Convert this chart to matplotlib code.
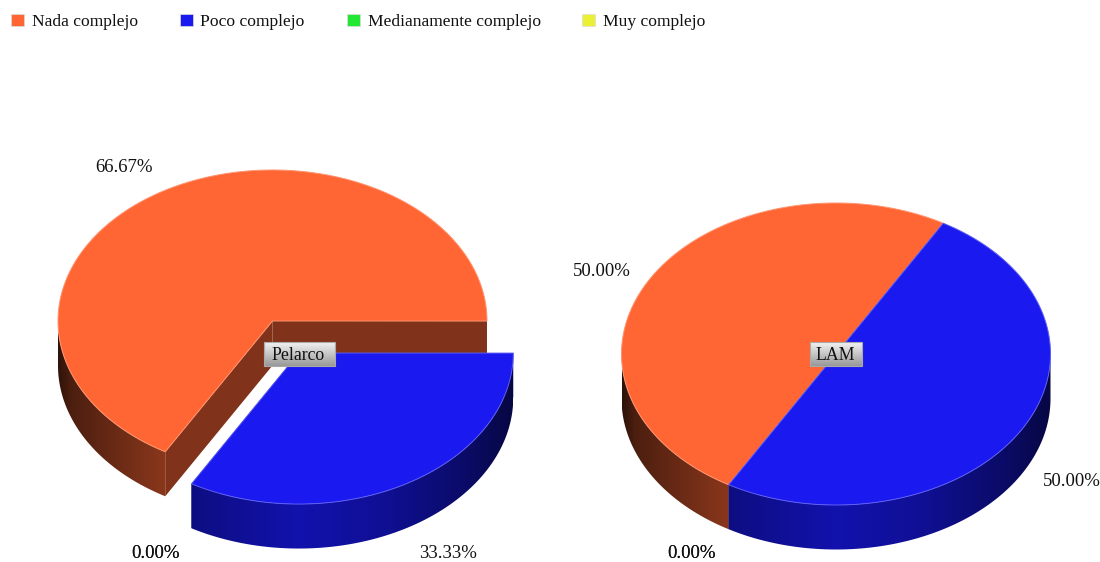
import numpy as np
import matplotlib
matplotlib.use("Agg")
import matplotlib.pyplot as plt
from matplotlib.colors import to_rgb
from matplotlib.patches import Patch, Polygon, Rectangle

categories = ["Nada complejo", "Poco complejo", "Medianamente complejo", "Muy complejo"]
colors = ["#ff6633", "#1919f0", "#22e833", "#eaf033"]

pelarco_values = [66.67, 33.33, 0.0, 0.0]
lam_values = [50.0, 50.0, 0.0, 0.0]

RX, RY, DEPTH = 214.5, 151, 44.5
START = 120  # angulo onde comeca a primeira fatia
SHADE_X = [0.0, 0.03, 0.12, 0.25, 0.5, 0.7, 0.9, 1.0]
SHADE_K = [0.18, 0.3, 0.4, 0.54, 0.72, 0.62, 0.42, 0.28]

plt.rcParams["font.family"] = ["Liberation Serif", "DejaVu Serif"]
FONT = 13.5

fig = plt.figure(figsize=(11, 5.62), dpi=100)
ax = fig.add_axes([0, 0, 1, 1])

order = [1.0]


def next_z():
    order[0] += 0.01
    return order[0]


def pt(cx, cy, t):
    r = np.radians(t)
    return cx + RX * np.cos(r), cy + RY * np.sin(r)


def draw_wall(cx, cy, t0, t1, color):
    # parede curva: gradiente horizontal recortado pelo contorno
    base = np.array(to_rgb(color))
    ts = np.linspace(t0, t1, 200)
    xs, ys = pt(cx, cy, ts)
    outline = np.r_[np.column_stack([xs, ys]), np.column_stack([xs, ys + DEPTH])[::-1]]
    px = np.linspace(0, 1, 430)
    row = np.outer(np.interp(px, SHADE_X, SHADE_K), base).reshape(1, -1, 3)
    z = next_z()
    im = ax.imshow(row, aspect="auto", zorder=z, interpolation="bilinear",
                   extent=(cx - RX, cx + RX, cy + RY + DEPTH + 1, cy - RY))
    clip = Polygon(outline, closed=True, transform=ax.transData)
    im.set_clip_path(clip)


def draw_pie(cx, cy, values, explode, label_pos):
    angle = START
    for value, color, exp, pos in zip(values, colors, explode, label_pos):
        span = value / sum(values) * 360
        t0, t1 = angle, angle + span
        angle = t1
        ax.text(pos[0], pos[1], f"{value:.2f}%", ha="center", va="center", fontsize=FONT,
                color="#111111", zorder=4)
        if value == 0:
            continue
        mid = np.radians((t0 + t1) / 2)
        ox = cx + exp * RX * np.cos(mid)
        oy = cy + exp * RY * np.sin(mid)

        # paredes radiais
        dark = np.array(to_rgb(color)) * 0.5
        for t in (t0, t1):
            x, y = pt(ox, oy, t)
            ax.add_patch(Polygon([(ox, oy), (x, y), (x, y + DEPTH), (ox, oy + DEPTH)],
                                 facecolor=dark, edgecolor="none", zorder=next_z()))

        # parte visivel da parede curva (frente do bolo)
        for k in (0, 360):
            a, b = max(t0, k), min(t1, k + 180)
            if b > a:
                draw_wall(ox, oy, a, b, color)

        ts = np.linspace(t0, t1, 300)
        xs, ys = pt(ox, oy, ts)
        top = np.column_stack([np.r_[ox, xs], np.r_[oy, ys]])
        edge = tuple(0.7 * np.array(to_rgb(color)) + 0.3)
        ax.add_patch(Polygon(top, closed=True, facecolor=color, edgecolor=edge, lw=0.7, zorder=next_z()))


def draw_tag(cx, cy, name, w):
    h = 24
    grad = np.linspace(0.95, 0.6, 32).reshape(-1, 1)
    ax.imshow(grad, cmap="gray", vmin=0, vmax=1, aspect="auto", zorder=5,
              extent=(cx - w / 2, cx + w / 2, cy + h / 2, cy - h / 2))
    ax.add_patch(Rectangle((cx - w / 2, cy - h / 2), w, h, fill=False, edgecolor="#aaaaaa", lw=0.8, zorder=6))
    ax.text(cx - 1, cy + 1.5, name, ha="center", va="center", fontsize=FONT - 0.7, color="#111111", zorder=7)


draw_pie(272.5, 321, pelarco_values, [0, 0.245, 0, 0],
         [(124.5, 168), (448, 554), (156, 554), (156, 554)])
draw_pie(836, 354, lam_values, [0, 0, 0, 0],
         [(602, 272), (1072, 482), (692, 554), (692, 554)])
draw_tag(299.5, 354, "Pelarco", 71)
draw_tag(836, 354, "LAM", 52)

handles = [Patch(facecolor=c, edgecolor="#dddddd", lw=0.5) for c in colors]
ax.legend(handles, categories, ncol=4, loc="upper left", bbox_to_anchor=(0.001, 0.993),
          frameon=False, fontsize=12.6, handlelength=0.75, handleheight=0.75,
          handletextpad=0.45, columnspacing=2.38, borderaxespad=0.15, labelcolor="#111111")

ax.set_xlim(0, 1100)
ax.set_ylim(562, 0)
ax.axis("off")

fig.savefig("out.png", dpi=100)
